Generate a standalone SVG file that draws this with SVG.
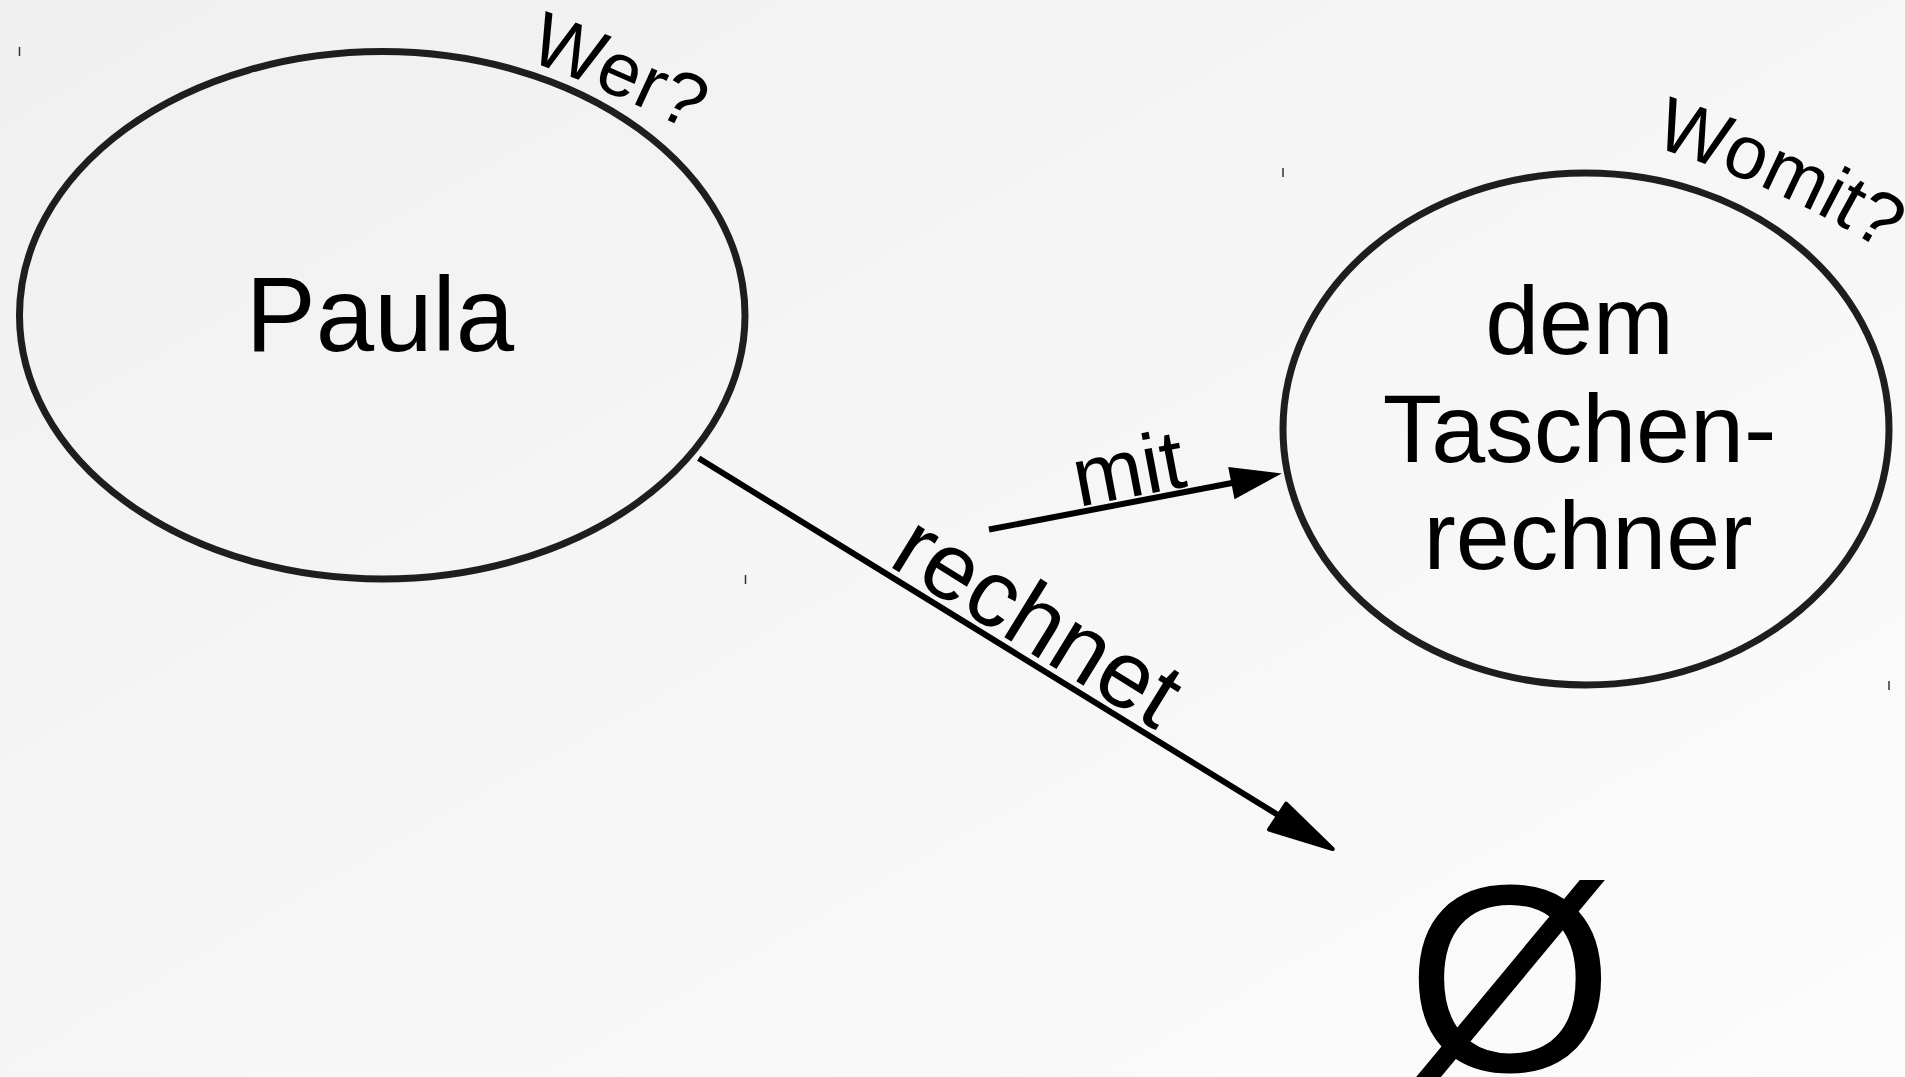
<svg xmlns="http://www.w3.org/2000/svg" width="1905" height="1077" viewBox="0 0 1905 1077">
  <defs>
    <linearGradient id="bg" x1="0" y1="0" x2="1" y2="1">
      <stop offset="0" stop-color="#f0f0f0"/>
      <stop offset="1" stop-color="#fcfcfc"/>
    </linearGradient>
    <path id="arcWer" d="M526,60 A1500,1500 0 0 1 708.8,140.6"/>
    <path id="arcWomit" d="M1652,146 A1000,1000 0 0 1 1896,259"/>
  </defs>
  <style>
    .node { fill: none; stroke: #1e1e1e; stroke-width: 7; }
    .label { font-family: "Liberation Sans", Arial, sans-serif; fill: #000; }
    .edge { stroke: #000; stroke-width: 6; fill: none; }
    .head { fill: #000; stroke: #000; }
    .tick { stroke: #333; stroke-width: 1.5; }
  </style>
  <rect width="1905" height="1077" fill="url(#bg)"/>

  <g id="ticks">
    <line class="tick" x1="19.5" y1="47" x2="19.5" y2="56"/>
    <line class="tick" x1="745.5" y1="575" x2="745.5" y2="584"/>
    <line class="tick" x1="1283" y1="168" x2="1283" y2="177"/>
    <line class="tick" x1="1889" y1="681" x2="1889" y2="690"/>
  </g>

  <g id="node-paula">
    <ellipse class="node" cx="382.25" cy="315.25" rx="362.75" ry="263.75"/>
    <text class="label" x="380" y="351" font-size="105" text-anchor="middle">Paula</text>
    <text class="label" font-size="76"><textPath href="#arcWer">Wer?</textPath></text>
  </g>

  <g id="node-taschenrechner">
    <ellipse class="node" cx="1586" cy="429" rx="303" ry="256"/>
    <text class="label" font-size="97" text-anchor="middle">
      <tspan x="1593" y="354">dem</tspan>
      <tspan x="1593" y="461.5">Taschen-</tspan>
      <tspan x="1588" y="569">rechner</tspan>
    </text>
    <text class="label" font-size="76"><textPath href="#arcWomit">Womit?</textPath></text>
  </g>

  <g id="node-empty">
    <text class="label" x="1510" y="1071" font-size="267" text-anchor="middle">Ø</text>
  </g>

  <g id="connectors">
    <g id="edge-rechnet">
      <line class="edge" x1="698.75" y1="458.3" x2="1278" y2="815"/>
      <polygon class="head" stroke-width="4" stroke-linejoin="round" points="1332.7,849 1269,829.6 1286.2,803.7"/>
      <text class="label" font-size="95" transform="translate(886.4,564.5) rotate(31.6)">rechnet</text>
    </g>
    <g id="edge-mit">
      <line class="edge" x1="989" y1="529.5" x2="1232" y2="483"/>
      <polygon class="head" stroke-width="0" points="1281.8,473.4 1228.2,466.9 1234.5,499.3"/>
      <text class="label" font-size="84" transform="translate(1078.6,507) rotate(-10.8)">mit</text>
    </g>
  </g>
</svg>
